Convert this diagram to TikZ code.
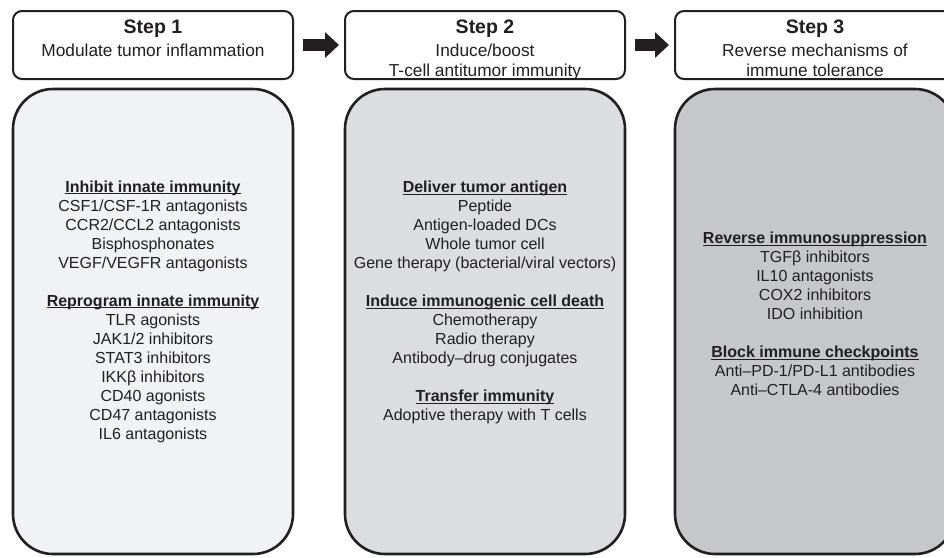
\documentclass[tikz,border=0pt]{standalone}
\usepackage{fontspec}
\setmainfont{Liberation Sans}
\usetikzlibrary{arrows.meta}
\definecolor{ink}{HTML}{231F20}
\definecolor{fillA}{HTML}{F1F2F4}
\definecolor{fillB}{HTML}{DCDDDF}
\definecolor{fillC}{HTML}{C6C7C9}
\newcommand\hdline[1]{\setbox0\hbox{\bfseries #1}\rlap{\rule[-2.4pt]{\wd0}{1.4pt}}\box0}
\tikzset{
 headbox/.style={draw=ink, line width=2pt, rounded corners=9pt, minimum width=280pt, minimum height=68pt, inner sep=0pt, fill=white},
 bigbox/.style={draw=ink, line width=2.6pt, rounded corners=40pt, minimum width=280pt, minimum height=465pt, inner sep=0pt},
 steptitle/.style={font=\fontsize{19.5}{22}\selectfont\bfseries, text=ink, inner sep=0pt, anchor=base},
 subtitle/.style={font=\fontsize{17.3}{20}\selectfont, text=ink, inner sep=0pt, anchor=north, align=center},
 listtext/.style={font=\fontsize{16}{19}\selectfont, text=ink, inner sep=0pt, anchor=north, align=center},
 blockarrow/.style={draw=ink, line width=12.5pt, -{Triangle[length=14pt, width=25pt]}, shorten <=9pt, shorten >=5pt}
}
\begin{document}
\begin{tikzpicture}[x=1pt,y=-1pt]
\useasboundingbox (0,0) rectangle (944,557);
\begin{scope}
\clip (0,0) rectangle (944,557);
% header boxes
\node[headbox] (s1) at (153,45) {};
\node[headbox] (s2) at (485,45) {};
\node[headbox] (s3) at (815,45) {};
\node[steptitle] (t1) at (153,33) {Step 1};
\node[steptitle] (t2) at (485,33) {Step 2};
\node[steptitle] (t3) at (815,33) {Step 3};
\node[subtitle] (u1) at (153,43.6) {Modulate tumor inflammation};
\node[subtitle] (u2) at (485,43.6) {Induce/boost\\T-cell antitumor immunity};
\node[subtitle] (u3) at (815,43.6) {Reverse mechanisms of\\immune tolerance};
% arrows
\draw[blockarrow] (s1.east) -- (s2.west);
\draw[blockarrow] (s2.east) -- (s3.west);
% big boxes
\node[bigbox, fill=fillA] (b1) at (153,321.5) {};
\node[bigbox, fill=fillB] (b2) at (485,321.5) {};
\node[bigbox, fill=fillC] (b3) at (815,321.5) {};
\node[listtext] (l1) at (153,180.2) {\hdline{Inhibit innate immunity}\\
CSF1/CSF-1R antagonists\\
CCR2/CCL2 antagonists\\
Bisphosphonates\\
VEGF/VEGFR antagonists\\[19pt]
\hdline{Reprogram innate immunity}\\
TLR agonists\\
JAK1/2 inhibitors\\
STAT3 inhibitors\\
IKKβ inhibitors\\
CD40 agonists\\
CD47 antagonists\\
IL6 antagonists};
\node[listtext] (l2) at (485,181) {\hdline{Deliver tumor antigen}\\
Peptide\\
Antigen-loaded DCs\\
Whole tumor cell\\
Gene therapy (bacterial/viral vectors)\\[19pt]
\hdline{Induce immunogenic cell death}\\
Chemotherapy\\
Radio therapy\\
Antibody–drug conjugates\\[19pt]
\hdline{Transfer immunity}\\
Adoptive therapy with T cells};
\node[listtext] (l3) at (815,232) {\hdline{Reverse immunosuppression}\\
TGFβ inhibitors\\
IL10 antagonists\\
COX2 inhibitors\\
IDO inhibition\\[19pt]
\hdline{Block immune checkpoints}\\
Anti–PD-1/PD-L1 antibodies\\
Anti–CTLA-4 antibodies};
\end{scope}
\end{tikzpicture}
\end{document}
